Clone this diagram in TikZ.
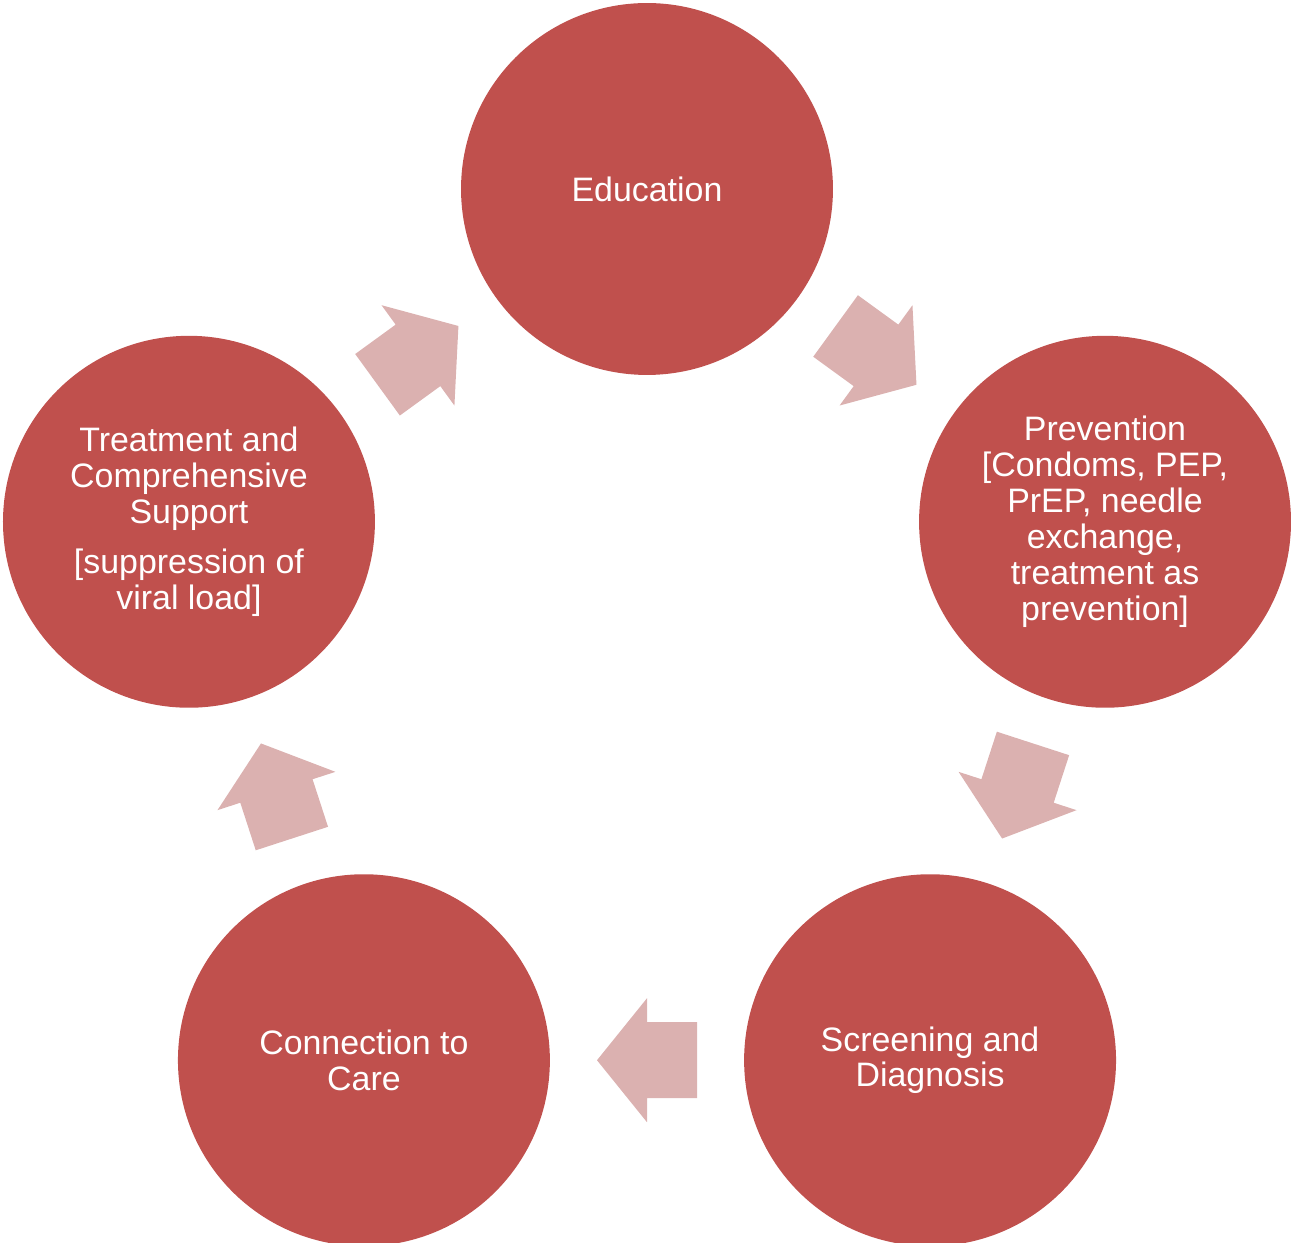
\documentclass[tikz,border=0pt]{standalone}
\usepackage{fontspec}
\setmainfont{Liberation Sans}
\usepackage{tikz}
\usetikzlibrary{calc}
\definecolor{stagered}{HTML}{C0504D}
\definecolor{flowpink}{HTML}{DBB1B0}

\begin{document}
\begin{tikzpicture}[x=0.02cm, y=0.02cm,
    stage/.style={circle, fill=stagered, text=white, minimum size=7.44cm, inner sep=0pt, align=center, font=\fontsize{19.3}{20.4}\selectfont},
    flow/.pic={\fill[flowpink] (50,0) -- (0,62) -- (0,38) -- (-50,38) -- (-50,-38) -- (0,-38) -- (0,-62) -- cycle;}]

    \useasboundingbox (-647,-572.4) rectangle (644,670.6);

    \node[stage] (edu) at (90:481.6) {Education};
    \node[stage] (prev) at (18:481.6) {Prevention\\{[Condoms, PEP,}\\PrEP, needle\\exchange,\\treatment as\\prevention]};
    \node[stage] (screen) at (-54:481.6) {Screening and\\Diagnosis};
    \node[stage] (care) at (-126:481.6) {Connection to\\Care};
    \node[stage] (treat) at (162:481.6) {Treatment and\\Comprehensive\\Support\\[0.28cm]{[suppression of}\\viral load]};

    \pic[rotate=-36] at ($(edu)!0.5!(prev)$) {flow};
    \pic[rotate=-108] at ($(prev)!0.5!(screen)$) {flow};
    \pic[rotate=180] at ($(screen)!0.5!(care)$) {flow};
    \pic[rotate=108] at ($(care)!0.5!(treat)$) {flow};
    \pic[rotate=36] at ($(treat)!0.5!(edu)$) {flow};

\end{tikzpicture}
\end{document}
